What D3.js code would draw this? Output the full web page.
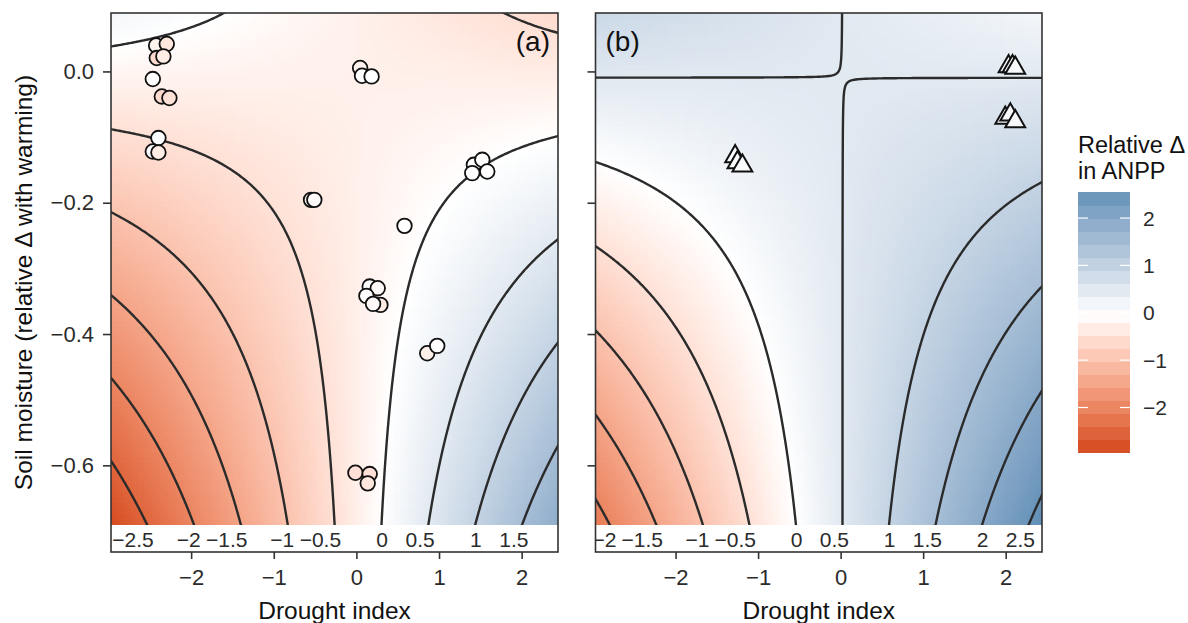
<!DOCTYPE html>
<html>
<head>
<meta charset="utf-8">
<script src="https://cdn.jsdelivr.net/npm/d3@7"></script>
<style>
  body { margin: 0; background: #fff; }
  svg { font-family: "Liberation Sans", Arial, sans-serif; }
</style>
</head>
<body>
<svg id="chart" width="1188" height="623"></svg>
<script>
// fitted surfaces, f = a + b*drought + c*moisture + d*drought*moisture
const coefA = [-0.24, -0.03, 0.04, -1.32];
const coefB = [0.4997, -0.0125, 0.0286, -1.302];

const xDomain = [-2.97, 2.44];
const yDomain = [-0.732, 0.089];
const ySurface = -0.691; // surface stops here, strip below holds the labels
const contourLevels = [-2.5, -2, -1.5, -1, -0.5, 0, 0.5, 1, 1.5, 2, 2.5];
const xTicks = [-2, -1, 0, 1, 2];
const yTicks = [0, -0.2, -0.4, -0.6];
const legendTicks = [-2, -1, 0, 1, 2];
const fillLimits = [-2.94, 2.55];

// sites, panel (a): drought index, soil moisture, relative change
const circX = [-2.424, -2.295, -2.416, -2.336, -2.464, -2.355, -2.263, -2.396, -2.464, -2.396,
  0.045, 0.068, 0.184, -0.549, -0.509, 0.582, 1.422, 1.524, 1.584, 1.402,
  0.161, 0.258, 0.121, 0.291, 0.202, 0.857, 0.978, -0.012, 0.161, 0.137];
const circY = [0.0396, 0.0418, 0.0204, 0.0229, -0.0116, -0.0381, -0.0405, -0.1015, -0.122, -0.1235,
  0.0052, -0.0066, -0.0076, -0.1956, -0.1956, -0.2352, -0.1422, -0.1346, -0.1524, -0.1549,
  -0.3277, -0.3302, -0.3419, -0.3556, -0.3541, -0.4293, -0.4181, -0.6113, -0.6133, -0.6274];
const circV = [-0.2, -0.4, -0.6, -0.3, 0, -0.6, -0.5, 0.05, 0.05, -0.3,
  -0.2, 0, 0, -0.15, -0.05, 0, 0, 0, 0, 0,
  0, -0.1, 0, -0.3, -0.1, -0.25, 0, -0.5, -0.5, -0.4];

// sites, panel (b)
const triX = [2.035, 2.083, 2.116, 1.995, 2.056, 2.116, -1.278, -1.25, -1.19];
const triY = [0.0076, 0.0076, 0.0052, -0.071, -0.066, -0.0762, -0.1296, -0.1387, -0.1438];
const triV = [0.1, 0.1, 0.1, 0.15, 0.15, 0.15, 0.1, 0.1, 0.1];

const svg = d3.select("#chart");
const plotTop = 13, plotBottom = 552;

const color = d3.scaleLinear()
  .domain([-2.94, 0, 2.94])
  .range(["#d4461b", "#ffffff", "#4b82ae"])
  .interpolate(d3.interpolateLab);

const ys = d3.scaleLinear().domain(yDomain).range([plotBottom, plotTop]);
const ySurfPx = ys(ySurface);
const surf = (k, x, y) => k[0] + k[1] * x + k[2] * y + k[3] * x * y;
const minus = s => String(s).replace("-", "\u2212");

const panels = [
  { id: "a", coef: coefA, left: 111, right: 558, tag: "(a)" },
  { id: "b", coef: coefB, left: 595.5, right: 1042, tag: "(b)" }
];

panels.forEach((p, pi) => {
  const xs = d3.scaleLinear().domain(xDomain).range([p.left, p.right]);
  const g = svg.append("g");

  const defs = svg.append("defs");
  defs.append("clipPath").attr("id", "clip-" + p.id)
    .append("rect").attr("x", p.left).attr("y", plotTop)
    .attr("width", p.right - p.left).attr("height", plotBottom - plotTop);
  defs.append("clipPath").attr("id", "clipS-" + p.id)
    .append("rect").attr("x", p.left).attr("y", plotTop)
    .attr("width", p.right - p.left).attr("height", ySurfPx - plotTop);

  // raster surface
  const nx = 110, ny = 90;
  const dx = (xDomain[1] - xDomain[0]) / nx, dy = (yDomain[1] - ySurface) / ny;
  const cells = [];
  for (let j = 0; j < ny; j++) {
    for (let i = 0; i < nx; i++) {
      const x0 = xDomain[0] + i * dx, y0 = ySurface + j * dy;
      cells.push({ x0, y0, v: surf(p.coef, x0 + dx / 2, y0 + dy / 2) });
    }
  }
  g.append("g").attr("clip-path", `url(#clipS-${p.id})`)
    .selectAll("rect").data(cells).join("rect")
    .attr("x", d => xs(d.x0))
    .attr("y", d => ys(d.y0 + dy))
    .attr("width", d => xs(d.x0 + dx) - xs(d.x0) + 0.6)
    .attr("height", d => ys(d.y0) - ys(d.y0 + dy) + 0.6)
    .attr("fill", d => color(d.v))
    .attr("shape-rendering", "crispEdges");

  // contour lines on a grid a bit larger than the panel
  const cnx = 260, cny = 230;
  const gx0 = xDomain[0] - 0.15, gx1 = xDomain[1] + 0.15;
  const gy0 = ySurface - 0.03, gy1 = yDomain[1] + 0.02;
  const sx = (gx1 - gx0) / (cnx - 1), sy = (gy1 - gy0) / (cny - 1);
  const values = new Float64Array(cnx * cny);
  for (let j = 0; j < cny; j++)
    for (let i = 0; i < cnx; i++)
      values[j * cnx + i] = surf(p.coef, gx0 + i * sx, gy1 - j * sy);
  const contours = d3.contours().size([cnx, cny]).thresholds(contourLevels)(values);
  const proj = d3.geoTransform({
    point: function (px, py) {
      this.stream.point(xs(gx0 + (px - 0.5) * sx), ys(gy1 - (py - 0.5) * sy));
    }
  });
  const path = d3.geoPath(proj);
  g.append("g").attr("clip-path", `url(#clipS-${p.id})`)
    .selectAll("path").data(contours).join("path")
    .attr("d", path)
    .attr("fill", "none")
    .attr("stroke", "#2b2b2b")
    .attr("stroke-width", 2.4);

  // contour labels where each line meets the bottom of the surface
  const k = p.coef;
  const labels = contourLevels
    .map(L => ({ L, x: (L - k[0] - k[2] * ySurface) / (k[1] + k[3] * ySurface) }))
    .filter(d => d.x > xDomain[0] && d.x < xDomain[1]);
  g.append("g").attr("clip-path", `url(#clip-${p.id})`)
    .selectAll("text").data(labels).join("text")
    .attr("x", d => xs(d.x) + 6.5)
    .attr("y", 546.5)
    .attr("text-anchor", "end")
    .attr("font-size", 21)
    .attr("fill", "#2b2b2b")
    .text(d => minus(d.L));

  // points
  if (p.id === "a") {
    const pts = circX.map((x, i) => ({ x, y: circY[i], v: circV[i] }));
    g.append("g").selectAll("circle").data(pts).join("circle")
      .attr("cx", d => xs(d.x)).attr("cy", d => ys(d.y))
      .attr("r", 7.3)
      .attr("fill", d => color(d.v))
      .attr("stroke", "#111").attr("stroke-width", 1.8);
  } else {
    const pts = triX.map((x, i) => ({ x, y: triY[i], v: triV[i] }));
    const sym = d3.symbol(d3.symbolTriangle, 170);
    g.append("g").selectAll("path").data(pts).join("path")
      .attr("d", sym)
      .attr("transform", d => `translate(${xs(d.x)},${ys(d.y)})`)
      .attr("fill", d => color(d.v))
      .attr("stroke", "#111").attr("stroke-width", 2);
  }

  // border
  g.append("rect")
    .attr("x", p.left).attr("y", plotTop)
    .attr("width", p.right - p.left).attr("height", plotBottom - plotTop)
    .attr("fill", "none").attr("stroke", "#333").attr("stroke-width", 1.6);

  // panel tag
  g.append("text")
    .attr("x", p.id === "a" ? p.right - 8 : p.left + 10)
    .attr("y", 51)
    .attr("text-anchor", p.id === "a" ? "end" : "start")
    .attr("font-size", 28)
    .attr("fill", "#111")
    .text(p.tag);

  // x axis
  const xa = g.append("g").attr("transform", `translate(0,${plotBottom})`)
    .call(d3.axisBottom(xs).tickValues(xTicks).tickSize(7).tickPadding(10).tickFormat(d3.format("d")));
  xa.select(".domain").remove();
  xa.selectAll("line").attr("stroke", "#333").attr("stroke-width", 1.6);
  xa.selectAll("text").attr("font-size", 22).attr("fill", "#2b2b2b").attr("font-family", null);

  // y axis (labels on the left panel only)
  const ya = g.append("g").attr("transform", `translate(${p.left},0)`)
    .call(d3.axisLeft(ys).tickValues(yTicks).tickSize(8).tickPadding(9)
      .tickFormat(pi === 0 ? d3.format(".1f") : () => ""));
  ya.select(".domain").remove();
  ya.selectAll("line").attr("stroke", "#333").attr("stroke-width", 1.6);
  ya.selectAll("text").attr("font-size", 22).attr("fill", "#2b2b2b").attr("font-family", null);

  g.append("text")
    .attr("x", (p.left + p.right) / 2).attr("y", 619)
    .attr("text-anchor", "middle").attr("font-size", 24.5).attr("fill", "#111")
    .text("Drought index");
});

svg.append("text")
  .attr("transform", `translate(32,${(plotTop + plotBottom) / 2}) rotate(-90)`)
  .attr("text-anchor", "middle").attr("font-size", 24.5).attr("fill", "#111")
  .text("Soil moisture (relative \u0394 with warming)");

// legend
const lx = 1078, lw = 52;
const ls = d3.scaleLinear().domain(fillLimits).range([452, 192]);
const nbin = 20;
const binStep = (fillLimits[1] - fillLimits[0]) / nbin;
const bins = d3.range(nbin).map(i => fillLimits[0] + i * binStep);
const lg = svg.append("g");
lg.selectAll("rect").data(bins).join("rect")
  .attr("x", lx).attr("width", lw)
  .attr("y", d => ls(d + binStep))
  .attr("height", d => ls(d) - ls(d + binStep) + 0.5)
  .attr("fill", d => color(d + binStep / 2))
  .attr("shape-rendering", "crispEdges");
lg.selectAll("line.tl").data(legendTicks).join("line")
  .attr("x1", lx).attr("x2", lx + 10)
  .attr("y1", d => ls(d)).attr("y2", d => ls(d))
  .attr("stroke", "#fff").attr("stroke-width", 1.2);
lg.selectAll("line.tr").data(legendTicks).join("line")
  .attr("x1", lx + lw - 10).attr("x2", lx + lw)
  .attr("y1", d => ls(d)).attr("y2", d => ls(d))
  .attr("stroke", "#fff").attr("stroke-width", 1.2);
lg.selectAll("text.lab").data(legendTicks).join("text")
  .attr("x", lx + lw + 13).attr("y", d => ls(d) + 7.5)
  .attr("font-size", 21).attr("fill", "#2b2b2b")
  .text(d => minus(d));
lg.append("text").attr("x", lx).attr("y", 153).attr("font-size", 23.5).attr("fill", "#111")
  .text("Relative \u0394");
lg.append("text").attr("x", lx).attr("y", 179).attr("font-size", 23.5).attr("fill", "#111")
  .text("in ANPP");
</script>
</body>
</html>
